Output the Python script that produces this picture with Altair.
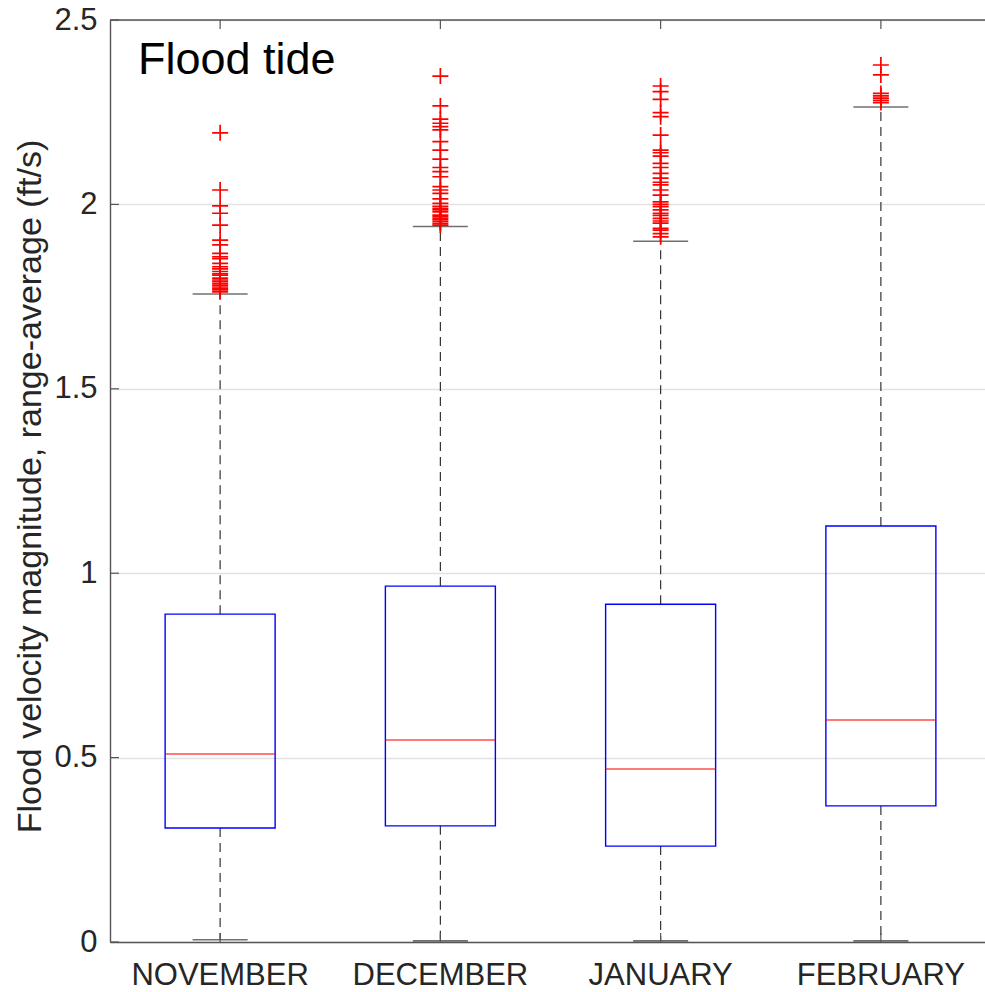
import altair as alt
import pandas as pd

# ---------------- data ----------------
months = ["NOVEMBER", "DECEMBER", "JANUARY", "FEBRUARY"]
q1 = [0.309, 0.315, 0.260, 0.369]
median = [0.510, 0.548, 0.469, 0.602]
q3 = [0.889, 0.965, 0.916, 1.128]
whisk_lo = [0.006, 0.003, 0.003, 0.003]
whisk_hi = [1.757, 1.940, 1.900, 2.264]

out_nov = [2.194, 2.039, 1.996, 1.976, 1.944, 1.903, 1.890, 1.867, 1.858, 1.853,
           1.840, 1.831, 1.825, 1.818, 1.812, 1.808, 1.800, 1.795, 1.791, 1.786,
           1.781, 1.776, 1.772, 1.768, 1.763]
out_dec = [2.348, 2.267, 2.231, 2.220, 2.211, 2.202, 2.170, 2.147, 2.123, 2.100,
           2.089, 2.075, 2.048, 2.039, 2.030, 2.015, 2.003, 1.995, 1.989, 1.985,
           1.980, 1.971, 1.967, 1.962, 1.958, 1.953, 1.948, 1.944]
out_jan = [2.321, 2.306, 2.285, 2.249, 2.238, 2.188, 2.147, 2.140, 2.131, 2.111,
           2.100, 2.084, 2.071, 2.060, 2.053, 2.039, 2.025, 2.007, 2.000, 1.994,
           1.985, 1.976, 1.970, 1.962, 1.955, 1.949, 1.935, 1.930, 1.921, 1.912]
out_feb = [2.378, 2.351, 2.301, 2.294, 2.288, 2.282, 2.276]
outliers = [out_nov, out_dec, out_jan, out_feb]

y_ticks = [0, 0.5, 1, 1.5, 2, 2.5]
panel_label = ["Flood tide"]
y_title = "Flood velocity magnitude, range-average (ft/s)"

# ---------------- tables ----------------
box_df = pd.DataFrame({"month": months, "q1": q1, "median": median, "q3": q3,
                       "lo": whisk_lo, "hi": whisk_hi})
out_df = pd.DataFrame([{"month": m, "v": v} for m, vals in zip(months, outliers) for v in vals])
tick_df = pd.DataFrame({"v": y_ticks})
label_df = pd.DataFrame({"t": panel_label})

# ---------------- styling ----------------
FONT = "Liberation Sans"
TXT = "#262626"
AX = "#555555"
W, H = 875, 922

xscale = alt.Scale(domain=months, range=[0, 881], paddingInner=0, paddingOuter=0)
yscale = alt.Scale(domain=[0, 2.5], nice=False, zero=False)

x_axis = alt.Axis(title=None, labelFontSize=31, labelAngle=0, ticks=False,
                  labelPadding=18, grid=False, domainColor=AX, domainWidth=1.4,
                  labelColor=TXT, labelFont=FONT)
y_axis = alt.Axis(values=y_ticks, format="~g", labelFontSize=31, ticks=False,
                  labelPadding=13, grid=True, gridColor="#e2e2e2", gridWidth=1.5,
                  domainColor=AX, domainWidth=1.4, labelColor=TXT, labelFont=FONT,
                  title=y_title, titleFontSize=34, titleFontWeight="normal",
                  titleFont=FONT, titleColor=TXT, titleAngle=-90, titleX=-70,
                  titleY=466, titleAlign="center", titleBaseline="alphabetic")


def X():
    return alt.X("month:N", scale=xscale, sort=months, axis=x_axis)


def Y(field):
    return alt.Y(field, scale=yscale, axis=y_axis)


base = alt.Chart(box_df)

whisk_up = base.mark_rule(color="#333333", strokeWidth=1.2, strokeDash=[9, 6]).encode(
    x=X(), y=Y("q3:Q"), y2="hi:Q")
whisk_dn = base.mark_rule(color="#333333", strokeWidth=1.2, strokeDash=[9, 6]).encode(
    x=X(), y=Y("q1:Q"), y2="lo:Q")
box = base.mark_bar(size=110, fillOpacity=0, stroke="#0000ff", strokeWidth=1.4).encode(
    x=X(), y=Y("q1:Q"), y2="q3:Q")
med = base.mark_tick(color="#ff0000", size=110, thickness=1.5, orient="horizontal").encode(
    x=X(), y=Y("median:Q"))
cap_hi = base.mark_tick(color="#333333", size=55, thickness=1.6, orient="horizontal").encode(
    x=X(), y=Y("hi:Q"))
cap_lo = base.mark_tick(color="#333333", size=55, thickness=1.6, orient="horizontal").encode(
    x=X(), y=Y("lo:Q"))
pts = alt.Chart(out_df).mark_point(shape="M-1,0L1,0M0,-1L0,1", size=256, filled=False,
                                   color="#ff0000", strokeWidth=1.7, opacity=1).encode(
    x=X(), y=Y("v:Q"))

# inward ticks and top frame line
yticks_in = alt.Chart(tick_df).mark_rule(color=AX, strokeWidth=1.2).encode(
    y=Y("v:Q"), x=alt.value(0), x2=alt.value(9))
xticks_top = base.mark_rule(color=AX, strokeWidth=1.2).encode(
    x=X(), y=alt.value(0), y2=alt.value(9))
xticks_bot = base.mark_rule(color=AX, strokeWidth=1.2).encode(
    x=X(), y=alt.value(H - 9), y2=alt.value(H))
top_frame = alt.Chart(label_df).mark_rule(color=AX, strokeWidth=1.4).encode(
    x=alt.value(0), x2=alt.value(881), y=alt.value(0))

label = alt.Chart(label_df).mark_text(fontSize=45, align="left", baseline="alphabetic",
                                      font=FONT, color="#000000").encode(
    text="t:N", x=alt.value(28), y=alt.value(54))

chart = alt.layer(
    whisk_up, whisk_dn, box, med, cap_hi, cap_lo, pts,
    yticks_in, xticks_top, xticks_bot, top_frame, label
).properties(
    width=W, height=H,
    autosize=alt.AutoSizeParams(type="none"),
    padding={"left": 110, "top": 20, "right": 0, "bottom": 50},
    background="white",
).configure_view(stroke=None)

chart.save("out.html", embed_options={"renderer": "svg", "actions": False})
